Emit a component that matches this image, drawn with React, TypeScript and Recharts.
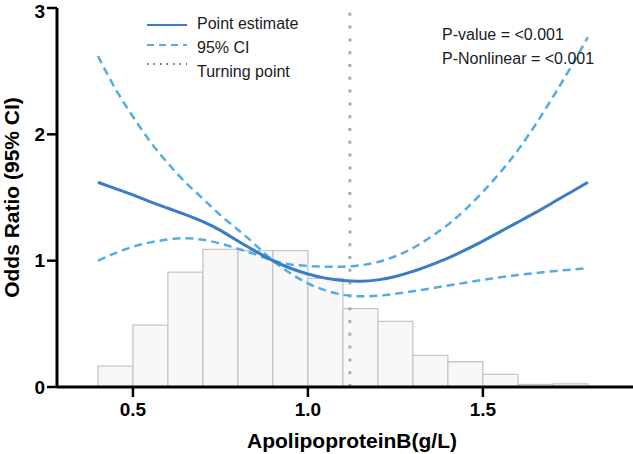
import React from "react";
import {
  ComposedChart,
  Line,
  XAxis,
  YAxis,
  ReferenceArea,
  ReferenceLine,
  Legend,
  Label,
} from "recharts";

// spline curve, sampled every 0.05 g/L
const apoB = [
  0.4, 0.45, 0.5, 0.55, 0.6, 0.65, 0.7, 0.75, 0.8, 0.85, 0.9, 0.95, 1.0, 1.05,
  1.1, 1.15, 1.2, 1.25, 1.3, 1.35, 1.4, 1.45, 1.5, 1.55, 1.6, 1.65, 1.7, 1.75,
  1.8,
];
const pointEstimate = [
  1.62, 1.57, 1.52, 1.465, 1.415, 1.365, 1.31, 1.24, 1.155, 1.075, 1.0, 0.94,
  0.895, 0.862, 0.843, 0.837, 0.848, 0.875, 0.915, 0.965, 1.02, 1.085, 1.155,
  1.23, 1.305, 1.38, 1.46, 1.54, 1.62,
];
// CI band halves that cross at the reference value
const ciHighLeft = [
  2.62, 2.36, 2.14, 1.94, 1.77, 1.62, 1.49, 1.36, 1.245, 1.125, 1.0, 0.9, 0.82,
  0.765, 0.73, 0.718, 0.722, 0.738, 0.758, 0.78, 0.803, 0.826, 0.848, 0.868,
  0.886, 0.902, 0.916, 0.929, 0.94,
];
const ciLowLeft = [
  1.0, 1.06, 1.11, 1.145, 1.168, 1.178, 1.165, 1.135, 1.095, 1.05, 1.0, 0.97,
  0.958, 0.952, 0.952, 0.963, 0.99, 1.035, 1.1, 1.185, 1.285, 1.405, 1.545,
  1.7, 1.875, 2.075, 2.295, 2.525, 2.77,
];

// histogram of the distribution
const binEdges = [
  0.4, 0.5, 0.6, 0.7, 0.8, 0.9, 1.0, 1.1, 1.2, 1.3, 1.4, 1.5, 1.6, 1.7, 1.8,
];
const binHeights = [
  0.165, 0.49, 0.91, 1.09, 1.08, 1.08, 0.86, 0.62, 0.52, 0.25, 0.2, 0.1, 0.02,
  0.025,
];

const turningPoint = 1.12;
const xTicks = [0.5, 1.0, 1.5];
const yTicks = [0, 1, 2, 3];
const pTexts = ["P-value = <0.001", "P-Nonlinear = <0.001"];

const FONT = '"Liberation Sans", Arial, Helvetica, sans-serif';
const SOLID = "#3a7cc6";
const DASHED = "#55abe3";

const data = apoB.map((x, i) => ({
  x,
  est: pointEstimate[i],
  ciA: ciHighLeft[i],
  ciB: ciLowLeft[i],
}));

function LegendBox() {
  return (
    <svg width={180} height={75} style={{ fontFamily: FONT, display: "block" }}>
      <line x1={0} x2={40} y1={15} y2={15} stroke={SOLID} strokeWidth={2} />
      <text x={50} y={13} fontSize={16} fill="#1a1a1a" dominantBaseline="central">
        Point estimate
      </text>
      <line
        x1={0}
        x2={40}
        y1={35}
        y2={35}
        stroke={DASHED}
        strokeWidth={2}
        strokeDasharray="7 5"
      />
      <text x={50} y={37} fontSize={16} fill="#1a1a1a" dominantBaseline="central">
        95% CI
      </text>
      <line
        x1={0}
        x2={40}
        y1={54}
        y2={54}
        stroke="#333"
        strokeWidth={1.5}
        strokeDasharray="1.5 5"
      />
      <text x={50} y={61} fontSize={16} fill="#1a1a1a" dominantBaseline="central">
        Turning point
      </text>
    </svg>
  );
}

export default function App() {
  const tickStyle = { fontSize: 19, fontWeight: "bold", fill: "#000", fontFamily: FONT };
  return (
    <div style={{ position: "absolute", left: 0, top: 0, width: 633, height: 454, fontFamily: FONT }}>
      <ComposedChart
        width={633}
        height={454}
        data={data}
        margin={{ top: 8, right: 0, bottom: 0, left: 0 }}
        style={{ fontFamily: FONT }}
      >
        <XAxis
          type="number"
          dataKey="x"
          domain={[0.283, 1.929]}
          allowDataOverflow
          ticks={xTicks}
          tickFormatter={(v: number) => v.toFixed(1)}
          height={67}
          tickSize={10}
          tickMargin={6}
          tick={tickStyle}
          axisLine={{ stroke: "#000", strokeWidth: 3 }}
          tickLine={{ stroke: "#000", strokeWidth: 2.5 }}
        >
          <Label
            content={({ viewBox }: any) => (
              <text
                x={viewBox.x + viewBox.width / 2 + 7}
                y={viewBox.y + viewBox.height - 6}
                textAnchor="middle"
                fontSize={21}
                fontWeight="bold"
                fontFamily={FONT}
                fill="#000"
              >
                ApolipoproteinB(g/L)
              </text>
            )}
          />
        </XAxis>
        <YAxis
          type="number"
          domain={[0, 3]}
          ticks={yTicks}
          width={57}
          tickSize={10}
          tickMargin={2}
          tick={tickStyle}
          axisLine={{ stroke: "#000", strokeWidth: 3 }}
          tickLine={{ stroke: "#000", strokeWidth: 2.5 }}
        >
          <Label
            value="Odds Ratio (95% CI)"
            angle={-90}
            position="insideLeft"
            offset={12}
            style={{
              textAnchor: "middle",
              fontSize: 21,
              fontWeight: "bold",
              fill: "#000",
              fontFamily: FONT,
            }}
          />
        </YAxis>
        {binHeights.map((h, i) => (
          <ReferenceArea
            key={i}
            x1={binEdges[i]}
            x2={binEdges[i + 1]}
            y1={0}
            y2={h}
            fill="#f8f8f8"
            fillOpacity={1}
            stroke="#c6c6c6"
            strokeWidth={1.3}
          />
        ))}
        <ReferenceLine
          x={turningPoint}
          stroke="#ababab"
          strokeWidth={3}
          strokeDasharray="3 9.8"
        />
        <Line
          type="natural"
          dataKey="ciA"
          stroke={DASHED}
          strokeWidth={2.5}
          strokeDasharray="8 5"
          dot={false}
          isAnimationActive={false}
        />
        <Line
          type="natural"
          dataKey="ciB"
          stroke={DASHED}
          strokeWidth={2.5}
          strokeDasharray="8 5"
          dot={false}
          isAnimationActive={false}
        />
        <Line
          type="natural"
          dataKey="est"
          stroke={SOLID}
          strokeWidth={3}
          dot={false}
          isAnimationActive={false}
        />
        <Legend
          layout="horizontal"
          verticalAlign="middle"
          align="center"
          content={() => <LegendBox />}
          wrapperStyle={{ left: 147, top: 10, width: 180, height: 75 }}
        />
      </ComposedChart>
      <div
        style={{
          position: "absolute",
          left: 442,
          top: 23,
          fontSize: 16,
          lineHeight: "24px",
          color: "#1a1a1a",
          whiteSpace: "nowrap",
        }}
      >
        {pTexts.map((t) => (
          <div key={t}>{t}</div>
        ))}
      </div>
    </div>
  );
}
